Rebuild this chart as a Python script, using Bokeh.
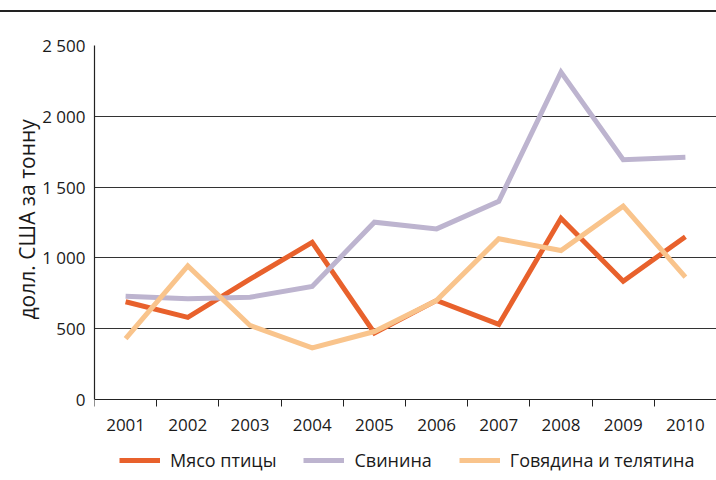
from bokeh.plotting import figure
from bokeh.models import (Range1d, FixedTicker, Legend, LegendItem, ColumnDataSource, LinearAxis)
from bokeh.embed import file_html
from bokeh.resources import INLINE

# ---- data ----
years = [2001, 2002, 2003, 2004, 2005, 2006, 2007, 2008, 2009, 2010]
poultry = [690, 580, 850, 1110, 470, 700, 530, 1280, 835, 1150]   # Мясо птицы
pork = [730, 711, 722, 798, 1252, 1205, 1400, 2312, 1693, 1711]   # Свинина
beef = [430, 944, 523, 365, 480, 700, 1135, 1052, 1365, 864]      # Говядина и телятина
series_names = ["Мясо птицы", "Свинина", "Говядина и телятина"]
ytick_vals = [0, 500, 1000, 1500, 2000, 2500]
ytick_labels = ["0", "500", "1 000", "1 500", "2 000", "2 500"]
y_title = "долл. США за тонну"

colors = ["#E8612C", "#BDB4CF", "#F9C48C"]
FONT = "Open Sans"
Y_BOTTOM = -572  # extra room under the zero line for the year labels and the legend

src = ColumnDataSource(dict(year=years, poultry=poultry, pork=pork, beef=beef))

p = figure(width=716, height=468, output_backend="svg", toolbar_location=None,
           x_range=Range1d(years[0] - 0.5, years[-1] + 0.5),
           y_range=Range1d(Y_BOTTOM, ytick_vals[-1]),
           x_axis_location=None,
           min_border_left=94, min_border_right=0, min_border_top=33, min_border_bottom=0)
p.background_fill_color = "white"
p.border_fill_color = "white"
p.outline_line_color = None
# thin dark rule across the top of the chart
p.styles = {"margin-top": "10px", "border-top": "2px solid #222222"}

# lines
renderers = []
for col, c in zip(["poultry", "pork", "beef"], colors):
    r = p.line("year", col, source=src, line_color=c, line_width=5, line_join="miter")
    renderers.append(r)

# x axis, drawn at the zero line
xa = LinearAxis(fixed_location=0)
xa.ticker = FixedTicker(ticks=years, minor_ticks=[y - 0.5 for y in years] + [years[-1] + 0.5])
xa.major_tick_out = 0
xa.major_tick_in = 0
xa.minor_tick_out = 7
xa.minor_tick_in = 0
xa.minor_tick_line_color = "#222222"
xa.minor_tick_line_width = 1
xa.axis_line_color = "#222222"
xa.axis_line_width = 1.2
xa.major_label_text_font = FONT
xa.major_label_text_font_size = "17px"
xa.major_label_text_color = "#1a1a1a"
xa.major_label_standoff = 12
p.add_layout(xa, "below")

# y axis
ya = p.yaxis[0]
ya.ticker = FixedTicker(ticks=ytick_vals)
ya.bounds = (ytick_vals[0], ytick_vals[-1])
ya.major_label_overrides = {v: l for v, l in zip(ytick_vals, ytick_labels)}
ya.major_tick_out = 0
ya.major_tick_in = 0
ya.minor_tick_out = 0
ya.minor_tick_in = 0
ya.axis_line_color = "#222222"
ya.axis_line_width = 1.2
ya.major_label_text_font = FONT
ya.major_label_text_font_size = "17px"
ya.major_label_text_color = "#1a1a1a"
ya.major_label_standoff = 9
# leading no-break spaces lift the visible title to the centre of the 0–2500 span
ya.axis_label = "\u00a0" * 16 + y_title
ya.axis_label_text_font = FONT
ya.axis_label_text_font_size = "21px"
ya.axis_label_text_font_style = "normal"
ya.axis_label_text_color = "#1a1a1a"
ya.axis_label_standoff = -2

p.xgrid.grid_line_color = None
p.ygrid.ticker = FixedTicker(ticks=ytick_vals[1:])
p.ygrid.grid_line_color = "#333333"
p.ygrid.grid_line_width = 1

# legend under the axis
legend = Legend(items=[LegendItem(label=n, renderers=[r]) for n, r in zip(series_names, renderers)],
                orientation="horizontal", location=(25, 8),
                glyph_width=41, glyph_height=20, label_standoff=10, spacing=27,
                padding=0, margin=0, border_line_color=None, background_fill_alpha=0,
                label_text_font=FONT, label_text_font_size="18px", label_text_color="#1a1a1a")
p.add_layout(legend, "center")

open("out.html", "w").write(file_html(p, INLINE))
